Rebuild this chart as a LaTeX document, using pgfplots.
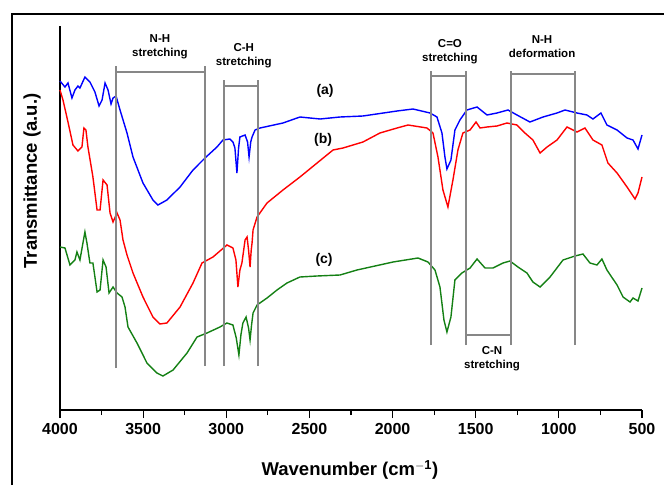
\documentclass[border=0pt]{standalone}
\usepackage{pgfplots}
\pgfplotsset{compat=1.18}
\usepackage{fontspec}
\setmainfont{Liberation Sans}
\definecolor{ftgreen}{RGB}{20,128,20}
\definecolor{bandgray}{RGB}{135,135,135}

\begin{document}
\begin{tikzpicture}[x=1pt,y=1pt]
\useasboundingbox (0,0) rectangle (664,485);
\draw[line width=1.2pt] (12,0) -- (12,471) -- (664,471);
\begin{axis}[
  at={(60pt,75pt)}, anchor=south west,
  scale only axis, width=582pt, height=384pt,
  xmin=500, xmax=4000, x dir=reverse,
  ymin=0, ymax=384,
  axis x line*=bottom, axis y line*=left,
  axis line style={line width=1.3pt},
  ytick=\empty,
  xtick={500,1000,...,4000},
  minor xtick={750,1250,...,3750},
  tick align=outside,
  major tick length=8pt, minor tick length=5pt,
  every tick/.style={black, line width=1.2pt},
  /pgf/number format/assume math mode=true,
  /pgf/number format/set thousands separator={},
  xticklabel style={font=\bfseries\fontsize{16}{16}\selectfont, yshift=-2pt},
  clip=false,
]
% (a)
\addplot[blue, line width=1.4pt] coordinates {
(4000,329) (3970,323) (3952,327) (3928,312) (3910,320) (3892,324) (3880,322)
(3850,333) (3820,328) (3790,318) (3765,304) (3747,310) (3729,327) (3711,320)
(3693,306) (3681,312) (3663,314) (3639,300) (3597,277) (3561,253) (3501,227)
(3441,210) (3411,205) (3357,210) (3278,223) (3200,240) (3128,252) (3056,263)
(3020,270) (2978,271) (2960,268) (2948,262) (2936,237) (2926,262) (2918,273)
(2887,275) (2872,268) (2863,253) (2853,268) (2845,273) (2827,280) (2797,282)
(2659,287) (2557,293) (2436,291) (2316,293) (2178,294) (1973,299) (1877,301)
(1775,297) (1733,293) (1703,277) (1685,253) (1673,241) (1649,250) (1625,280)
(1595,290) (1553,300) (1492,303) (1432,295) (1372,297) (1306,300) (1252,295)
(1174,288) (1095,293) (1011,297) (963,300) (891,297) (831,295) (795,291)
(747,297) (711,285) (650,280) (590,272) (554,270) (524,261) (500,275)
};
% (b)
\addplot[red, line width=1.4pt] coordinates {
(4000,320) (3982,310) (3952,288) (3922,265) (3892,259) (3868,263) (3856,282)
(3844,280) (3832,263) (3802,233) (3777,200) (3759,200) (3741,230) (3717,225)
(3699,197) (3681,188) (3657,197) (3639,190) (3621,170) (3597,155) (3561,137)
(3501,113) (3441,93) (3399,86) (3357,87) (3278,103) (3200,127) (3146,147)
(3080,153) (2996,165) (2960,162) (2942,150) (2930,123) (2918,140) (2906,147)
(2887,170) (2875,173) (2866,160) (2857,143) (2850,160) (2845,167) (2839,180)
(2815,193) (2755,207) (2659,220) (2557,233) (2454,247) (2358,260) (2298,262)
(2178,268) (2076,277) (1973,282) (1907,285) (1793,282) (1757,277) (1727,253)
(1697,220) (1667,203) (1637,230) (1607,260) (1577,277) (1534,280) (1498,288)
(1474,282) (1432,283) (1372,284) (1312,287) (1252,285) (1204,277) (1156,270)
(1113,257) (1071,263) (1011,270) (951,283) (891,278) (843,282) (795,270)
(741,265) (705,247) (650,237) (590,223) (542,211) (524,217) (500,233)
};
% (c)
\addplot[ftgreen, line width=1.4pt] coordinates {
(4000,163) (3970,162) (3940,145) (3910,150) (3898,158) (3880,150) (3862,167)
(3850,178) (3838,167) (3820,147) (3802,147) (3777,118) (3759,120) (3741,150)
(3723,143) (3705,117) (3681,123) (3657,117) (3627,113) (3609,103) (3591,83)
(3537,67) (3477,47) (3417,37) (3381,34) (3320,40) (3236,57) (3176,73)
(3116,77) (3038,83) (2996,87) (2960,85) (2940,72) (2924,55) (2912,75)
(2900,87) (2881,93) (2866,82) (2857,70) (2848,85) (2839,97) (2815,105)
(2755,112) (2695,120) (2635,127) (2557,133) (2454,134) (2316,135) (2214,140)
(1997,148) (1847,152) (1787,148) (1745,140) (1715,123) (1691,90) (1673,78)
(1649,93) (1625,130) (1583,137) (1534,142) (1492,151) (1444,142) (1396,142)
(1336,147) (1294,149) (1246,143) (1192,137) (1156,128) (1113,123) (1053,133)
(975,150) (903,154) (855,156) (813,147) (771,145) (741,151) (711,140)
(650,125) (614,113) (572,108) (554,112) (524,109) (500,122)
};
% band markers
\begin{scope}[bandgray, line width=1.5pt]
\draw (axis cs:3663,42) -- (axis cs:3663,344);
\draw (axis cs:3128,44) -- (axis cs:3128,344);
\draw (axis cs:3663,338) -- (axis cs:3128,338);
\draw (axis cs:3014,44) -- (axis cs:3014,330);
\draw (axis cs:2809,44) -- (axis cs:2809,330);
\draw (axis cs:3014,324) -- (axis cs:2809,324);
\draw (axis cs:1768,65) -- (axis cs:1768,339);
\draw (axis cs:1559,65) -- (axis cs:1559,339);
\draw (axis cs:1768,334) -- (axis cs:1559,334);
\draw (axis cs:1288,65) -- (axis cs:1288,339);
\draw (axis cs:903,65) -- (axis cs:903,339);
\draw (axis cs:1288,336) -- (axis cs:903,336);
\draw (axis cs:1559,75) -- (axis cs:1288,75);
\end{scope}
\begin{scope}[every node/.style={font=\bfseries\fontsize{11.5}{14}\selectfont, align=center, inner sep=0pt}]
\node at (axis cs:3399,363) {N-H\\stretching};
\node at (axis cs:2895,354) {C-H\\stretching};
\node at (axis cs:1655,358) {C=O\\stretching};
\node at (axis cs:1101,363) {N-H\\deformation};
\node at (axis cs:1402,51) {C-N\\stretching};
\end{scope}
\begin{scope}[every node/.style={font=\bfseries\fontsize{14}{14}\selectfont, inner sep=0pt}]
\node at (axis cs:2406,319) {(a)};
\node at (axis cs:2418,270) {(b)};
\node at (axis cs:2412,150) {(c)};
\end{scope}
\end{axis}
\node[font=\bfseries\fontsize{18.5}{20}\selectfont] at (350,15) {Wavenumber (cm$^{\mathbf{-1}}$)};
\node[font=\bfseries\fontsize{18.5}{20}\selectfont, rotate=90] at (32,304) {Transmittance (a.u.)};
\end{tikzpicture}
\end{document}
